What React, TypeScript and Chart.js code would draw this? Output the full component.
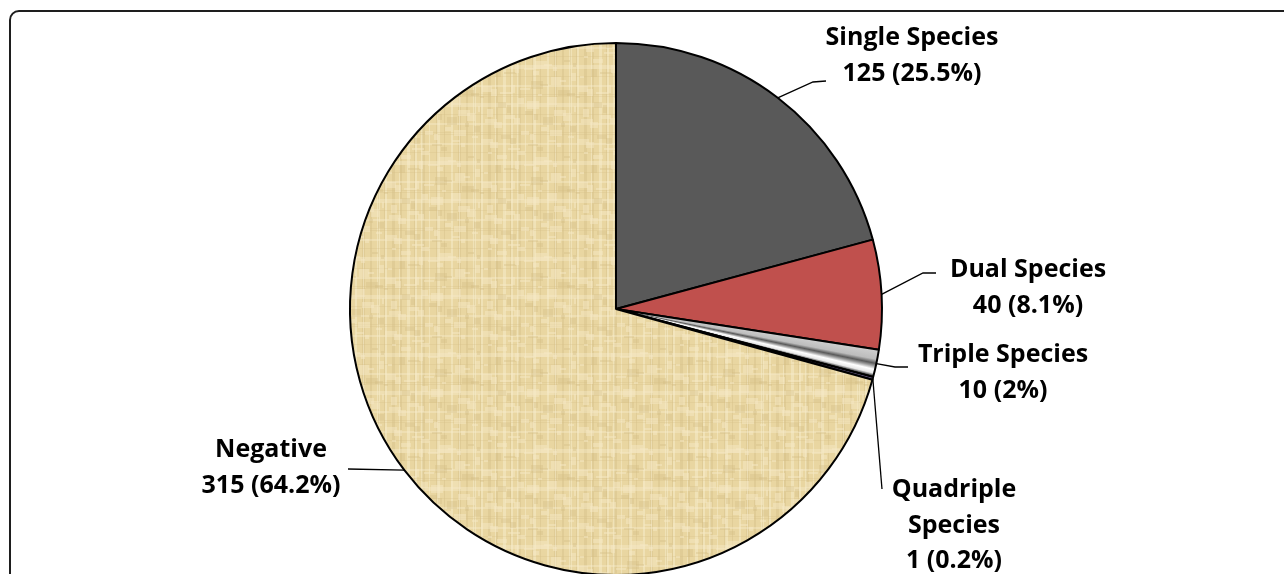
import React, { useEffect, useRef } from "react";
import { Chart, registerables } from "chart.js";

Chart.register(...registerables);

// ---- data ----
const categories = ["Single Species", "Dual Species", "Triple Species", "Quadriple Species", "Negative"];
// slice sizes as drawn in the picture (angles)
const sliceValues = [125, 40, 10, 1, 425];
// label texts as printed
const countLabels = ["125", "40", "10", "1", "315"];
const percentLabels = ["25.5%", "8.1%", "2%", "0.2%", "64.2%"];
const nameLines = [["Single Species"], ["Dual Species"], ["Triple Species"], ["Quadriple", "Species"], ["Negative"]];

// ---- layout / style ----
const FONT = "bold 25px 'Open Sans', Lato, sans-serif";
const LINE_GAP = 35.5;
const labelLayout = [
  { cx: 912, firstBaseline: 45, leader: [[813, 82], [826, 81]] },
  { cx: 1028, firstBaseline: 277, leader: [[923, 273], [936, 273]] },
  { cx: 1003, firstBaseline: 362, leader: [[895, 367], [908, 367]] },
  { cx: 954, firstBaseline: 497, leader: [[882, 489]] },
  { cx: 271, firstBaseline: 457, leader: [[348, 469]] },
];

function makePapyrus(): CanvasPattern | string {
  const c = document.createElement("canvas");
  c.width = 96;
  c.height = 96;
  const g = c.getContext("2d");
  if (!g) return "#ead7a2";
  g.fillStyle = "#e9d6a1";
  g.fillRect(0, 0, 96, 96);
  for (let i = 0; i < 20; i++) {
    const x = (i * 37) % 96;
    const w = 1 + (i % 3);
    g.fillStyle = i % 2 ? "rgba(248,238,205,0.5)" : "rgba(205,182,125,0.3)";
    g.fillRect(x, 0, w, 96);
  }
  for (let i = 0; i < 14; i++) {
    const y = (i * 29 + 7) % 96;
    const h = 1 + ((i + 1) % 2);
    g.fillStyle = i % 2 ? "rgba(210,188,130,0.25)" : "rgba(248,238,205,0.4)";
    g.fillRect(0, y, 96, h);
  }
  for (let i = 0; i < 60; i++) {
    const x = (i * 53) % 96;
    const y = (i * 71) % 96;
    g.fillStyle = i % 3 === 0 ? "rgba(212,190,132,0.35)" : "rgba(245,232,195,0.5)";
    g.fillRect(x, y, 4 + (i % 5) * 2, 2 + (i % 4) * 2);
  }
  return g.createPattern(c, "repeat") || "#ead7a2";
}

const labelPlugin = {
  id: "pieLabels",
  afterDatasetsDraw(chart: any) {
    const ctx = chart.ctx;
    const meta = chart.getDatasetMeta(0);
    ctx.save();
    ctx.strokeStyle = "#000";
    ctx.lineWidth = 1.3;
    meta.data.forEach((arc: any, i: number) => {
      const { x, y, startAngle, endAngle, outerRadius } = arc.getProps(["x", "y", "startAngle", "endAngle", "outerRadius"], true);
      const mid = (startAngle + endAngle) / 2;
      const sx = x + Math.cos(mid) * outerRadius;
      const sy = y + Math.sin(mid) * outerRadius;
      const lay = labelLayout[i];
      ctx.beginPath();
      ctx.moveTo(sx, sy);
      lay.leader.forEach((p: number[]) => ctx.lineTo(p[0], p[1]));
      ctx.stroke();
      const lines = [...nameLines[i], `${countLabels[i]} (${percentLabels[i]})`];
      ctx.fillStyle = "#000";
      ctx.font = FONT;
      ctx.textAlign = "center";
      ctx.textBaseline = "alphabetic";
      lines.forEach((t, k) => ctx.fillText(t, lay.cx, lay.firstBaseline + k * LINE_GAP));
    });
    ctx.restore();
  },
};

export default function App() {
  const ref = useRef<HTMLCanvasElement | null>(null);
  useEffect(() => {
    if (!ref.current) return;
    const papyrus = makePapyrus();
    const total = sliceValues.reduce((a, b) => a + b, 0);
    const chart = new Chart(ref.current, {
      type: "pie",
      data: {
        labels: categories,
        datasets: [
          {
            data: sliceValues,
            borderColor: "#000",
            borderWidth: 2,
            backgroundColor: (c: any) => {
              const i = c.dataIndex;
              if (i === 0) return "#595959";
              if (i === 1) return "#c0504d";
              if (i === 3) return "#7a6aa0";
              if (i === 4) return papyrus;
              const area = c.chart.chartArea;
              if (!area) return "#cccccc";
              const before = sliceValues.slice(0, i).reduce((a, b) => a + b, 0);
              const a0 = -Math.PI / 2 + (before / total) * Math.PI * 2;
              const w = sliceValues[i] / total;
              const cx = (area.left + area.right) / 2;
              const cy = (area.top + area.bottom) / 2;
              const grad = c.chart.ctx.createConicGradient(a0, cx, cy);
              grad.addColorStop(0, "#cfcfcf");
              grad.addColorStop(w * 0.35, "#bdbdbd");
              grad.addColorStop(w * 0.5, "#5a5a5a");
              grad.addColorStop(w * 0.6, "#a0a0a0");
              grad.addColorStop(w * 0.72, "#ffffff");
              grad.addColorStop(w * 0.86, "#e8e8e8");
              grad.addColorStop(w * 0.95, "#505050");
              grad.addColorStop(Math.min(1, w * 1.05), "#404040");
              return grad;
            },
          },
        ],
      },
      options: {
        animation: false,
        responsive: true,
        maintainAspectRatio: false,
        layout: { padding: { left: 349, right: 401, top: 42, bottom: 64 } },
        plugins: { legend: { display: false }, tooltip: { enabled: false } },
      },
      plugins: [labelPlugin],
    });
    return () => chart.destroy();
  }, []);
  return (
    <div style={{ position: "fixed", left: 0, top: 0, width: 1284, height: 574, overflow: "hidden", background: "#fff" }}>
      <div style={{ position: "absolute", left: 0, top: 0, width: 1284, height: 640 }}>
        <canvas ref={ref} />
      </div>
      <div
        style={{
          position: "absolute",
          left: 9,
          top: 10,
          width: 1320,
          height: 640,
          border: "2px solid #1e1e1e",
          borderRadius: 10,
          boxSizing: "border-box",
          pointerEvents: "none",
        }}
      />
    </div>
  );
}
